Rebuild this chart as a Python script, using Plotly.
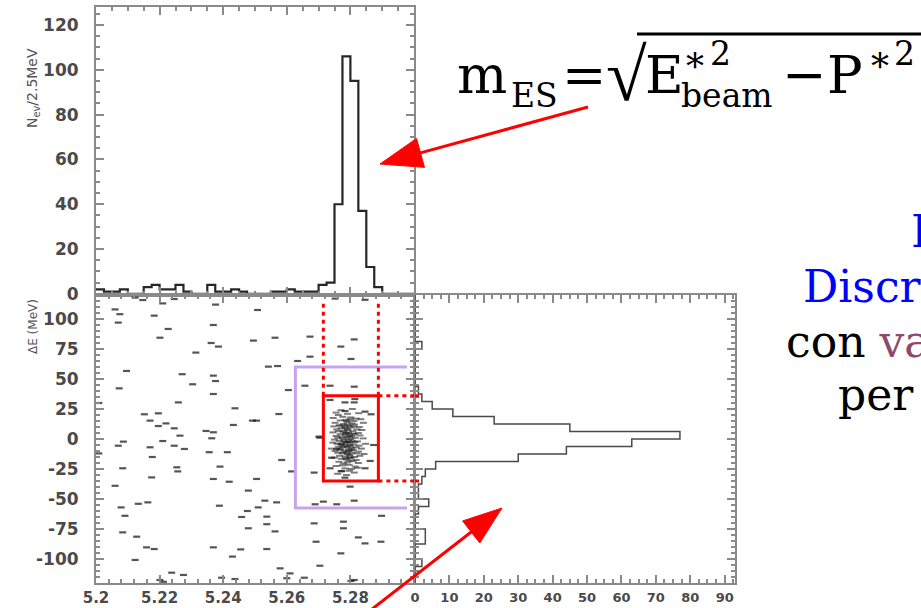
import math
import plotly.graph_objects as go

W, H = 921, 608

# ---------------- data ----------------
# m_ES projection: 2.5 MeV bins between 5.20 and 5.30 GeV
mes_start, mes_width = 5.20, 0.0025
mes_counts = [2, 1, 1, 2, 0, 0, 3, 4, 2, 2, 4, 1, 0, 0, 4, 1, 1, 2, 1, 0,
              0, 0, 1, 1, 2, 1, 1, 1, 4, 5, 40, 106, 95, 37, 12, 3, 0, 0, 0, 0]

# Delta E projection: 6.25 MeV bins between -125 and 125 MeV
de_start, de_width = -125.0, 6.25
de_counts = [0, 0, 0, 2, 0, 0, 3, 3, 0, 0, 1, 4, 1, 1, 2, 3, 6, 30, 44, 63,
             77, 45, 23, 11, 5, 2, 1, 0, 0, 0, 0, 0, 2, 0, 0, 0, 0, 0, 0, 0]

# sideband / combinatorial candidates (m_ES [GeV], Delta E [MeV])
bkg_points = [
    (5.2123, 117.8), (5.2147, 115.8), (5.2210, 113), (5.2246, 116.7), (5.2376, 112),
    (5.2060, 108), (5.2075, 104), (5.2183, 102.8), (5.2070, 97), (5.2369, 95),
    (5.2227, 91.7), (5.2201, 84.4), (5.2362, 80), (5.2385, 77), (5.2314, 72),
    (5.2495, 82), (5.2096, 56.7), (5.2271, 54), (5.2369, 52.8), (5.2376, 48.3),
    (5.2304, 45.6), (5.2073, 42.2), (5.2369, 37.5), (5.2259, 30.5), (5.2009, 30),
    (5.2437, 25.6), (5.2152, 20.6), (5.2196, 21.4), (5.2170, 15.3), (5.2220, 13),
    (5.2196, 10.8), (5.2246, 8.9), (5.2432, 11.7), (5.2492, 15.3), (5.2346, 6.7),
    (5.2369, 5.6), (5.2264, 2.8), (5.2364, 0.6), (5.2086, -2.2), (5.2210, -1.7),
    (5.2070, -5.6), (5.2246, -5.6), (5.2170, -6.9), (5.2278, -8.3), (5.2009, -12),
    (5.2356, -11), (5.2413, -11), (5.2177, -15), (5.2084, -24.4), (5.2254, -23.6),
    (5.2257, -27), (5.2390, -23), (5.2175, -32), (5.2369, -33.3), (5.2419, -35.6),
    (5.2060, -39), (5.2479, -43), (5.2133, -54), (5.2163, -52.8), (5.2079, -57),
    (5.2388, -55.6), (5.2476, -60), (5.2458, -65), (5.2091, -64), (5.2479, -74.4),
    (5.2084, -77.8), (5.2128, -81.4), (5.2159, -90.3), (5.2183, -91.7), (5.2369, -90.3),
    (5.2455, -92), (5.2429, -98), (5.2123, -100.8), (5.2238, -111.4), (5.2275, -113.3),
    (5.2395, -115.6), (5.2437, -116.7), (5.2201, -117.5), (5.2212, -119),
    (5.2752, 117), (5.2846, 116), (5.2508, 107.5), (5.2563, 84.4), (5.2673, 85.3),
    (5.2812, 83), (5.2770, 77), (5.2802, 66.7), (5.2634, 65), (5.2542, 60.3),
    (5.2571, 60.8), (5.2673, 68.6), (5.2657, 44.4), (5.2736, 44.4), (5.2605, 40.8),
    (5.2812, 43.6), (5.2575, 20.8), (5.2505, 15.3), (5.2704, 1.1), (5.2584, -17.5),
    (5.2615, -27), (5.2686, -28), (5.2505, -33.3), (5.2799, -39.7), (5.2531, -51.4),
    (5.2568, -52.8), (5.2510, -57), (5.2689, -54.4), (5.2715, -52.2), (5.2757, -54.4),
    (5.2812, -51.4), (5.2537, -64.7), (5.2537, -71), (5.2686, -70.3), (5.2778, -68.9),
    (5.2778, -74.4), (5.2898, -64), (5.2692, -85.6), (5.2825, -82), (5.2846, -87),
    (5.2896, -85.6), (5.2563, -77), (5.2770, -95.3), (5.2537, -91.7), (5.2704, -105.6),
    (5.2579, -107.8), (5.2610, -112), (5.2802, -118.3), (5.2812, -117.5), (5.2600, -116),
    (5.2655, -115.6),
    (5.2736, 32.5), (5.2783, 30.5), (5.2812, 30.5), (5.2846, 22.8), (5.2865, 20.6),
    (5.2783, 23.3), (5.2701, 2), (5.2741, -15.6), (5.2736, -24.4), (5.2773, -26.7),
    (5.2783, -32.2), (5.2846, -24.4), (5.2862, -18.3), (5.2873, -5), (5.2757, -8.3),
    (5.2814, 33.3),
]

# signal candidates clustered at the B mass
sig_points = [
    (5.2770, 24), (5.2806, 25), (5.2755, 22), (5.2791, 21), (5.2762, 20), (5.2826, 21.5),
    (5.2776, 18.5), (5.2801, 18), (5.2818, 17), (5.2746, 17.5), (5.2786, 16), (5.2768, 15.5),
    (5.2811, 15), (5.2833, 16.5), (5.2752, 13.5), (5.2790, 14), (5.2805, 13), (5.2778, 12.5),
    (5.2841, 13.5), (5.2765, 11.5), (5.2796, 11), (5.2813, 12), (5.2748, 10.5), (5.2828, 10),
    (5.2783, 10.5), (5.2771, 9), (5.2790, 8.5), (5.2802, 9.5), (5.2821, 8), (5.2757, 8),
    (5.2836, 7.5), (5.2780, 7), (5.2762, 6.5), (5.2777, 6), (5.2794, 5.5), (5.2808, 6.5),
    (5.2825, 5), (5.2745, 5.5), (5.2788, 4.5), (5.2768, 4), (5.2784, 3.5), (5.2797, 3),
    (5.2812, 4), (5.2830, 3), (5.2755, 2.5), (5.2773, 2), (5.2805, 2.5), (5.2760, 1),
    (5.2776, 0.5), (5.2789, 1.5), (5.2801, 0), (5.2815, 1), (5.2840, 0.5), (5.2750, -0.5),
    (5.2794, -1), (5.2765, -1.5), (5.2780, -2), (5.2792, -2.5), (5.2806, -1.5), (5.2822, -2),
    (5.2745, -3), (5.2772, -3.5), (5.2799, -3), (5.2758, -4), (5.2770, -4.5), (5.2786, -4),
    (5.2798, -5), (5.2810, -4.5), (5.2827, -5.5), (5.2848, -4), (5.2781, -6), (5.2762, -6.5),
    (5.2777, -7), (5.2790, -6.5), (5.2803, -7.5), (5.2818, -7), (5.2740, -8), (5.2795, -8.5),
    (5.2835, -8), (5.2768, -9), (5.2782, -9.5), (5.2795, -10), (5.2809, -9), (5.2826, -10.5),
    (5.2752, -10), (5.2788, -11), (5.2760, -11.5), (5.2775, -12), (5.2791, -12.5), (5.2804, -11.5),
    (5.2820, -12), (5.2797, -13), (5.2843, -12.5), (5.2766, -14), (5.2783, -14.5), (5.2799, -14),
    (5.2813, -15), (5.2830, -14), (5.2750, -15.5), (5.2772, -16.5), (5.2787, -17), (5.2802, -16),
    (5.2818, -17.5), (5.2795, -18), (5.2764, -19), (5.2790, -19.5), (5.2808, -18.5), (5.2825, -20),
    (5.2778, -20.5), (5.2775, -22), (5.2796, -21.5), (5.2815, -23), (5.2755, -22.5), (5.2783, -24.5),
    (5.2803, -25), (5.2822, -24), (5.2770, -27), (5.2797, -26.5), (5.2812, -28), (5.2788, -30),
    (5.2760, -29), (5.2785, 5), (5.2792, 7.5), (5.2779, -0.5), (5.2797, 1.5), (5.2786, -2.5),
    (5.2800, -6), (5.2783, 9.5), (5.2807, 4.5), (5.2774, -5), (5.2803, -9.5), (5.2791, 12),
    (5.2779, -11), (5.2796, -15.5), (5.2788, 15), (5.2810, 10.5), (5.2767, -8), (5.2814, -2.5),
    (5.2771, 11), (5.2799, 16.5), (5.2785, -16),
]

mes_tickvals = [5.20, 5.22, 5.24, 5.26, 5.28]
mes_ticktext = ["5.2", "5.22", "5.24", "5.26", "5.28"]
nev_tickvals = [0, 20, 40, 60, 80, 100, 120]
de_tickvals = [100, 75, 50, 25, 0, -25, -50, -75, -100]
de_ticktext = ["100", "75", "50", "25", "0", "-25", "-50", "-75", "-100"]
proj_tickvals = [0, 10, 20, 30, 40, 50, 60, 70, 80, 90]


# ---------------- helpers ----------------
def px(x):
    return x / W


def py(y):
    return 1 - y / H


FRAME = "#8a8a8a"
TICKFONT = dict(family="DejaVu Sans", size=17, color="#4a4a4a", weight="bold")


def frame_axis(**kw):
    base = dict(showline=True, linecolor=FRAME, linewidth=2, mirror="allticks",
                ticks="inside", tickcolor=FRAME, tickwidth=1.5, ticklen=8,
                showgrid=False, zeroline=False, automargin=False,
                tickfont=TICKFONT)
    base.update(kw)
    return base


# ---------------- figure ----------------
fig = go.Figure()

mes_edges = [mes_start + i * mes_width for i in range(len(mes_counts) + 1)]
fig.add_trace(go.Scatter(
    x=mes_edges, y=mes_counts + [mes_counts[-1]], mode="lines", line_shape="hv",
    line=dict(color="#262626", width=2.2), xaxis="x", yaxis="y", hoverinfo="skip"))

de_edges = [de_start + i * de_width for i in range(len(de_counts) + 1)]
fig.add_trace(go.Scatter(
    x=de_counts + [de_counts[-1]], y=de_edges, mode="lines", line_shape="vh",
    line=dict(color="#4a4a4a", width=1.5), xaxis="x3", yaxis="y3", hoverinfo="skip"))

bkg_marker = dict(symbol="line-ew", size=5, line=dict(color="rgba(20,20,20,0.72)", width=2.2))
sig_marker = dict(symbol="line-ew", size=5, line=dict(color="rgba(20,20,20,0.55)", width=2.0))
fig.add_trace(go.Scatter(
    x=[p[0] for p in bkg_points], y=[p[1] for p in bkg_points], mode="markers",
    marker=bkg_marker, xaxis="x2", yaxis="y2", hoverinfo="skip"))
fig.add_trace(go.Scatter(
    x=[p[0] for p in sig_points], y=[p[1] for p in sig_points], mode="markers",
    marker=sig_marker, xaxis="x2", yaxis="y2", hoverinfo="skip"))

x_left = [px(96), px(414)]
x_right = [px(415), px(735)]
y_top = [py(295), py(7)]
y_bot = [py(583), py(295)]

fig.update_layout(
    width=W, height=H, margin=dict(l=0, r=0, t=0, b=0),
    paper_bgcolor="white", plot_bgcolor="white", showlegend=False,
    template="none",
    xaxis=frame_axis(domain=x_left, anchor="y", range=[5.20, 5.30], showticklabels=False,
                     dtick=0.02, tick0=5.2, minor=dict(dtick=0.005, ticklen=4, ticks="inside",
                                                       tickcolor=FRAME)),
    yaxis=frame_axis(domain=y_top, anchor="x", range=[-0.5, 128], tickvals=nev_tickvals,
                     ticklabelstandoff=12,
                     minor=dict(dtick=5, ticklen=4, ticks="inside", tickcolor=FRAME)),
    xaxis2=frame_axis(domain=x_left, anchor="y2", range=[5.20, 5.30], tickvals=mes_tickvals,
                      ticktext=mes_ticktext, ticklabelstandoff=0,
                      tickfont=dict(family="DejaVu Sans", size=15, color="#4a4a4a", weight="bold"),
                      minor=dict(dtick=0.004, ticklen=4, ticks="inside", tickcolor=FRAME)),
    yaxis2=frame_axis(domain=y_bot, anchor="x2", range=[-120, 120], tickvals=de_tickvals,
                      ticktext=de_ticktext, ticklabelstandoff=12,
                      minor=dict(dtick=5, ticklen=4, ticks="inside", tickcolor=FRAME)),
    xaxis3=frame_axis(domain=x_right, anchor="y3", range=[0, 93], tickvals=proj_tickvals,
                      ticklabelstandoff=1,
                      tickfont=dict(family="DejaVu Sans", size=13, color="#4a4a4a", weight="bold"),
                      minor=dict(dtick=2.5, ticklen=4, ticks="inside", tickcolor=FRAME)),
    yaxis3=frame_axis(domain=y_bot, anchor="x3", range=[-120, 120], showticklabels=False,
                      dtick=25, minor=dict(dtick=5, ticklen=4, ticks="inside", tickcolor=FRAME)),
)

# ---------------- selection boxes ----------------
RED = "#ff0000"
LAVENDER = "#c9a3f2"
box_mes = (5.2715, 5.2888)
box_de = (-35, 36)
side_mes = (5.2627, 5.2978)
side_de = (-57.5, 60)
dots = "4px,4px"

shapes = [
    dict(type="path", xref="x2", yref="y2",
         path=(f"M {side_mes[1]},{side_de[1]} L {side_mes[0]},{side_de[1]} "
               f"L {side_mes[0]},{side_de[0]} L {side_mes[1]},{side_de[0]}"),
         line=dict(color=LAVENDER, width=3)),
    dict(type="rect", xref="x2", yref="y2", x0=box_mes[0], x1=box_mes[1],
         y0=box_de[0], y1=box_de[1], line=dict(color=RED, width=3)),
]
for xm in box_mes:
    shapes.append(dict(type="line", xref="x2", yref="y2", x0=xm, x1=xm, y0=box_de[1], y1=116,
                       line=dict(color=RED, width=3, dash=dots)))
for yd in box_de:
    shapes.append(dict(type="line", xref="x2", yref="y2", x0=box_mes[1], x1=5.3, y0=yd, y1=yd,
                       line=dict(color=RED, width=3, dash=dots)))
    shapes.append(dict(type="line", xref="x3", yref="y3", x0=0, x1=1.6, y0=yd, y1=yd,
                       line=dict(color=RED, width=3, dash=dots)))


def arrow(sx, sy, tx, ty, head_len, head_half):
    dx, dy = tx - sx, ty - sy
    d = math.hypot(dx, dy)
    ux, uy = dx / d, dy / d
    bx, by = tx - head_len * ux, ty - head_len * uy
    nx, ny = -uy, ux
    line = dict(type="line", xref="paper", yref="paper", x0=px(sx), y0=py(sy),
                x1=px(bx + 2 * ux), y1=py(by + 2 * uy), line=dict(color=RED, width=3))
    tri = dict(type="path", xref="paper", yref="paper",
               path=(f"M {px(tx)},{py(ty)} L {px(bx + head_half * nx)},{py(by + head_half * ny)} "
                     f"L {px(bx - head_half * nx)},{py(by - head_half * ny)} Z"),
               fillcolor=RED, line=dict(color=RED, width=1))
    return [line, tri]


shapes += arrow(588, 107, 380, 164, 42, 15)
shapes += arrow(358, 620, 502, 508, 39, 14)

# radical overline of the formula
shapes.append(dict(type="line", xref="paper", yref="paper", x0=px(637), x1=px(930),
                   y0=py(34), y1=py(34), line=dict(color="black", width=3)))

fig.update_layout(shapes=shapes)

# ---------------- text ----------------
annotations = []


def put(text, xl, baseline, size, color="black", family="DejaVu Serif"):
    annotations.append(dict(
        text=text, xref="paper", yref="paper", x=px(xl), y=py(baseline - 0.346 * size),
        xanchor="left", yanchor="middle", showarrow=False, borderpad=0, borderwidth=0,
        font=dict(family=family, size=size, color=color)))


# m_ES = sqrt(E*^2_beam - P*^2 ...
put("m", 457, 93, 53)
put("ES", 511, 107, 33)
put("=", 562, 93, 53)
put("\u221a", 606, 101, 74, family="Liberation Serif")
put("E", 645, 93, 53)
put("*", 686, 79, 36)
put("2", 710, 65, 33)
put("beam", 681, 107, 33)
put("\u2212", 782, 93, 53)
put("P", 827, 93, 53)
put("*", 871, 79, 36)
put("2", 894, 65, 33)

# side text
put("Due", 911, 247, 44, color="#0000ff")
put("Discriminanti", 803, 302, 44, color="#0000ff")
put("con <span style='color:#8e4a6c'>variabili</span>", 786, 357, 44)
put("per il fit", 838, 410, 44)

# axis titles
annotations.append(dict(
    text="N<sub>ev</sub>/2.5MeV", xref="paper", yref="paper", x=px(22), y=py(46),
    textangle=-90, showarrow=False, font=dict(family="DejaVu Sans", size=14, color="#555555")))
annotations.append(dict(
    text="\u0394E (MeV)", xref="paper", yref="paper", x=px(24), y=py(327),
    textangle=-90, showarrow=False, font=dict(family="DejaVu Sans", size=12, color="#555555")))

fig.update_layout(annotations=annotations)

fig.write_html("out.html")
